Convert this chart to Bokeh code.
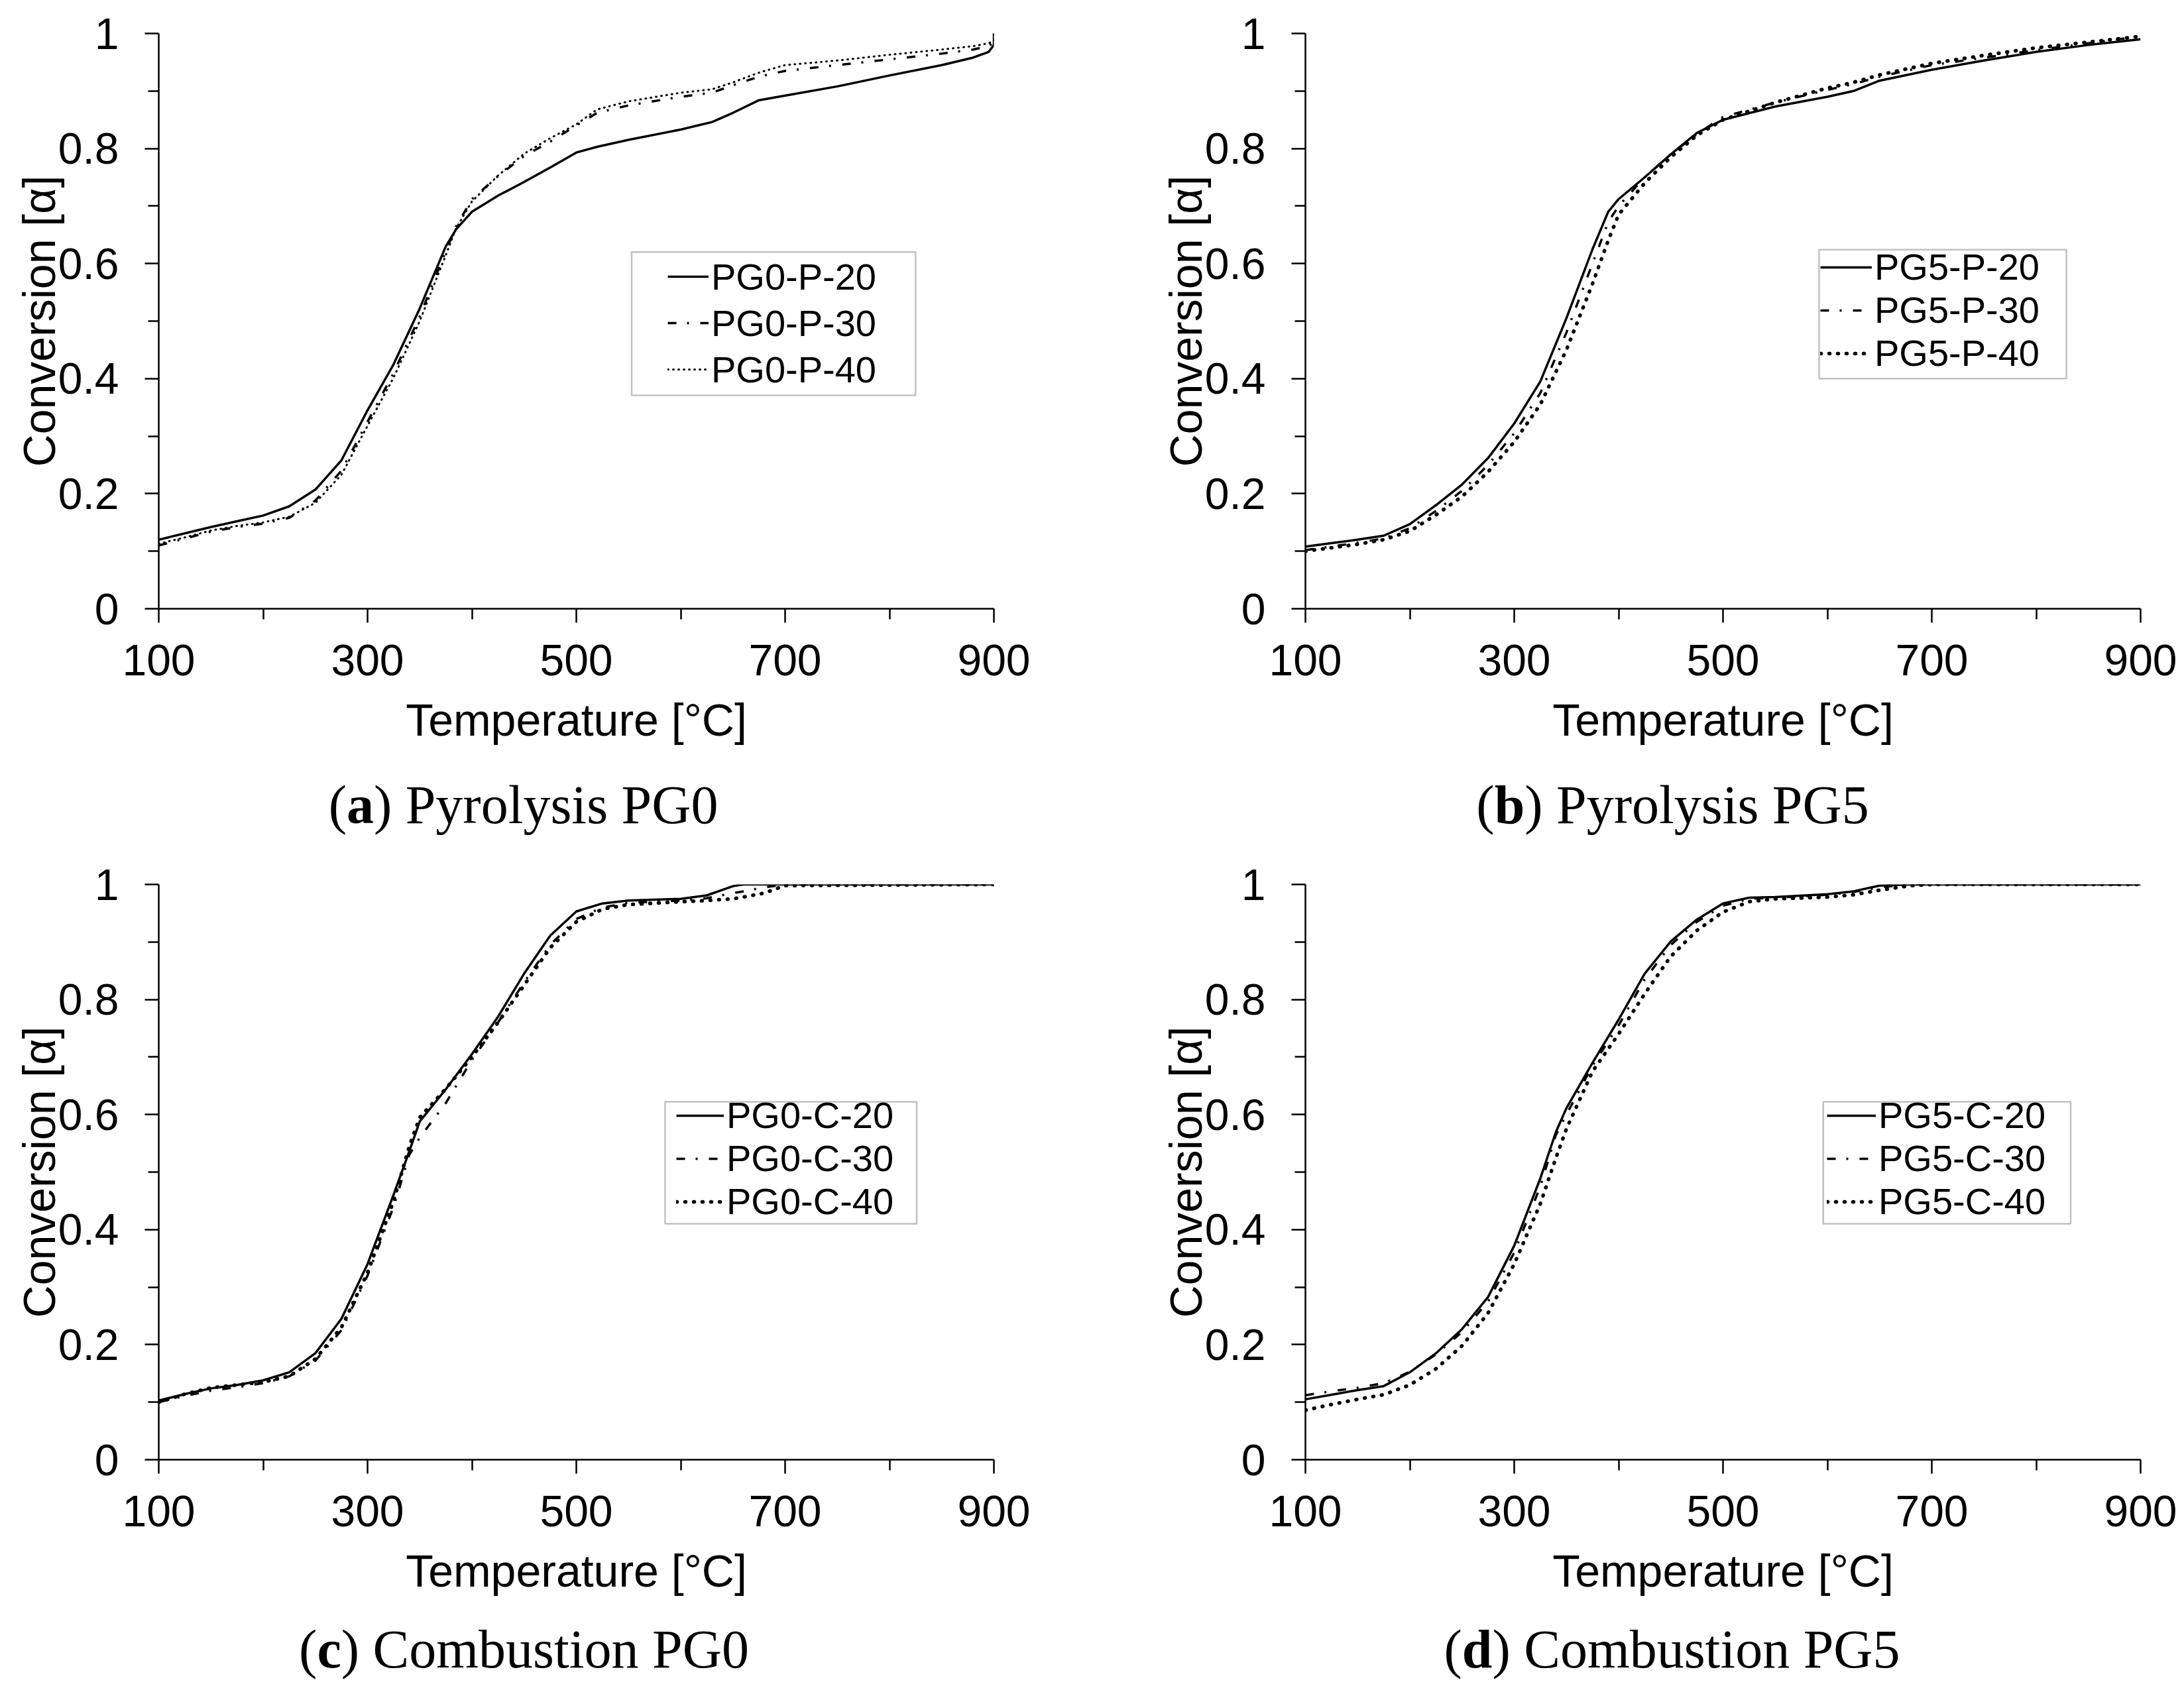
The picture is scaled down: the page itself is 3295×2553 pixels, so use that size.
from bokeh.plotting import figure
from bokeh.models import (Range1d, FixedTicker, NumeralTickFormatter, Legend, LegendItem,
                          BoxAnnotation)
from bokeh.layouts import column, row
from bokeh.embed import file_html
from bokeh.resources import INLINE
from bokeh.core.properties import value

SANS = "Liberation Sans"
SERIF = "Liberation Serif"

# ---------------- data ----------------
X_MAJOR = [100, 300, 500, 700, 900]
X_MINOR = [200, 400, 600, 800]
Y_MAJOR = [0, 0.2, 0.4, 0.6, 0.8, 1]
Y_MINOR = [0.1, 0.3, 0.5, 0.7, 0.9]

# (a) Pyrolysis PG0
T_a = [100, 125, 150, 175, 200, 225, 250, 275, 300, 325, 350, 375, 385, 400, 425, 450,
       475, 500, 520, 550, 600, 630, 650, 675, 700, 750, 800, 850, 880, 895, 900, 900]
PG0_P_20 = [.120, .131, .142, .152, .162, .178, .207, .258, .345, .425, .522, .630, .660, .690,
            .718, .742, .767, .793, .803, .815, .833, .846, .862, .884, .892, .908, .927, .945,
            .958, .968, .980, 1.0]
PG0_P_30 = [.110, .122, .134, .142, .148, .158, .188, .240, .325, .410, .508, .622, .665, .712,
            .752, .787, .812, .840, .862, .875, .890, .897, .910, .925, .935, .945, .955, .965,
            .972, .978, .985, 1.0]
PG0_P_40 = [.113, .124, .136, .144, .150, .160, .184, .233, .318, .402, .500, .615, .662, .708,
            .753, .791, .818, .842, .868, .882, .897, .903, .915, .932, .945, .953, .963, .972,
            .978, .983, .988, 1.0]

# (b) Pyrolysis PG5
T_b = [100, 125, 150, 175, 200, 225, 250, 275, 300, 325, 350, 375, 390, 400, 425, 450, 475,
       500, 550, 600, 625, 650, 700, 750, 800, 850, 900]
PG5_P_20 = [.108, .114, .120, .127, .147, .180, .216, .262, .322, .395, .505, .625, .690, .712,
            .750, .790, .827, .850, .873, .890, .900, .918, .937, .953, .968, .980, .990]
PG5_P_30 = [.102, .108, .115, .122, .140, .170, .205, .250, .305, .375, .480, .600, .672, .700,
            .750, .790, .825, .855, .880, .902, .912, .925, .945, .958, .971, .983, .995]
PG5_P_40 = [.100, .106, .112, .120, .135, .163, .195, .238, .290, .355, .450, .565, .640, .685,
            .740, .785, .823, .850, .880, .905, .915, .928, .948, .962, .975, .985, .995]

# (c) Combustion PG0
T_c = [100, 125, 150, 175, 200, 225, 250, 275, 300, 325, 340, 350, 375, 400, 425, 450, 475,
       500, 525, 550, 600, 625, 650, 660, 680, 700, 900]
PG0_C_20 = [.103, .114, .124, .130, .138, .152, .185, .245, .340, .461, .536, .588, .644, .705,
            .770, .845, .911, .953, .967, .972, .975, .981, .997, 1.0, 1.0, 1.0, 1.0]
PG0_C_30 = [.100, .111, .120, .126, .133, .145, .172, .225, .320, .440, .530, .560, .620, .695,
            .760, .830, .895, .940, .960, .968, .972, .976, .985, .988, .995, 1.0, 1.0]
PG0_C_40 = [.100, .114, .125, .130, .135, .145, .175, .230, .325, .450, .545, .595, .645, .700,
            .760, .825, .890, .935, .957, .965, .970, .972, .975, .978, .985, .998, 1.0]

# (d) Combustion PG5
T_d = [100, 125, 150, 175, 200, 225, 250, 275, 300, 325, 340, 350, 375, 400, 425, 450, 475,
       500, 525, 550, 600, 625, 650, 680, 700, 900]
PG5_C_20 = [.105, .113, .121, .128, .152, .185, .227, .283, .372, .489, .570, .611, .690, .765,
            .845, .901, .939, .967, .977, .978, .983, .988, .998, 1.0, 1.0, 1.0]
PG5_C_30 = [.112, .119, .125, .133, .153, .183, .222, .275, .360, .475, .565, .600, .685, .755,
            .835, .895, .935, .963, .975, .977, .982, .987, .995, 1.0, 1.0, 1.0]
PG5_C_40 = [.086, .096, .105, .113, .130, .158, .198, .255, .340, .445, .525, .575, .675, .740,
            .810, .875, .920, .952, .970, .975, .978, .982, .990, .998, 1.0, 1.0]

# ---------------- styling ----------------
SOLID = dict(line_color="black", line_width=3.5)
DASHDOT = dict(line_color="black", line_width=3.5, line_dash="13 16 3 17")
DOT_FINE = dict(line_color="black", line_width=3, line_dash="1 7", line_cap="round")
DOT_BOLD = dict(line_color="black", line_width=5.5, line_dash="1 12", line_cap="round")

FRAME_W = 1260
FRAME_H = 868
LEFT_B = 239
TOP_B = 50

TIMES_W = {"(": .333, ")": .333, " ": .25, "P": .556, "y": .5, "r": .333, "o": .5, "l": .278,
           "s": .389, "i": .278, "G": .722, "0": .5, "5": .5, "C": .667, "m": .778, "b": .5,
           "u": .5, "t": .278, "n": .5}
BOLD_W = {"a": .5, "b": .556, "c": .444, "d": .556}


def make_fig(width, height):
    p = figure(width=width, height=height, x_range=Range1d(100, 900), y_range=Range1d(0, 1),
               output_backend="svg", toolbar_location=None,
               min_border_left=LEFT_B, min_border_right=width - LEFT_B - FRAME_W,
               min_border_top=TOP_B, min_border_bottom=height - TOP_B - FRAME_H)
    p.xgrid.visible = False
    p.ygrid.visible = False
    p.outline_line_color = None
    p.background_fill_color = "white"
    p.border_fill_color = "white"
    p.xaxis.ticker = FixedTicker(ticks=X_MAJOR, minor_ticks=X_MINOR)
    p.yaxis.ticker = FixedTicker(ticks=Y_MAJOR, minor_ticks=Y_MINOR)
    p.yaxis.formatter = NumeralTickFormatter(format="0.[0]")
    for ax in (p.xaxis[0], p.yaxis[0]):
        ax.axis_line_color = "black"
        ax.axis_line_width = 2.5
        ax.major_tick_line_color = "black"
        ax.major_tick_line_width = 2.5
        ax.minor_tick_line_color = "black"
        ax.minor_tick_line_width = 2.5
        ax.major_tick_in = 0
        ax.major_tick_out = 21
        ax.minor_tick_in = 0
        ax.minor_tick_out = 16
        ax.major_label_text_font = SANS
        ax.major_label_text_font_size = "66px"
        ax.major_label_text_color = "black"
        ax.axis_label_text_font = SANS
        ax.axis_label_text_font_size = "68px"
        ax.axis_label_text_font_style = "normal"
        ax.axis_label_text_color = "black"
    p.xaxis.axis_label = "Temperature [°C]"
    p.yaxis.axis_label = "Conversion [α]"
    p.xaxis.major_label_standoff = 33
    p.xaxis.axis_label_standoff = 26
    p.yaxis.major_label_standoff = 39
    p.yaxis.axis_label_standoff = -12
    return p


def add_panel(p, T, series, names, styles, box, leg):
    renderers = [p.line(T, ys, **st) for ys, st in zip(series, styles)]
    left, right, bottom, top = box
    p.add_layout(BoxAnnotation(left=left, right=right, bottom=bottom, top=top,
                               fill_color="white", fill_alpha=1.0,
                               line_color="#333333", line_width=2.5))
    lx, ly, gw, lh = leg
    legend = Legend(items=[LegendItem(label=n, renderers=[r]) for n, r in zip(names, renderers)],
                    location=(lx, ly), glyph_width=gw, glyph_height=20, label_height=lh,
                    label_width=20, spacing=0, padding=0, margin=0, label_standoff=4,
                    border_line_alpha=0, background_fill_alpha=0,
                    label_text_font=SANS, label_text_font_size="56px",
                    label_text_color="black")
    p.add_layout(legend)


def caption_fig(width, height, letter, rest, center_x, center_from_top):
    c = figure(width=width, height=height, x_range=Range1d(0, width), y_range=Range1d(0, height),
               output_backend="svg", toolbar_location=None,
               x_axis_location=None, y_axis_location=None, min_border=0)
    c.xgrid.visible = False
    c.ygrid.visible = False
    c.outline_line_color = None
    c.background_fill_color = "white"
    c.border_fill_color = "white"
    fs = 82
    w_open = TIMES_W["("] * fs
    w_letter = BOLD_W[letter] * fs
    w_rest = sum(TIMES_W.get(ch, .5) for ch in rest) * fs
    start = -(w_open + w_letter + w_rest) / 2.0
    cy = height - center_from_top
    common = dict(text_font=value(SERIF), text_font_size=value(f"{fs}px"),
                  text_color="black", text_align="left", text_baseline="middle")
    c.text(x=[center_x], y=[cy], text=["("], x_offset=start, **common)
    c.text(x=[center_x], y=[cy], text=[letter], x_offset=start + w_open,
           text_font_style="bold", **common)
    c.text(x=[center_x], y=[cy], text=[rest], x_offset=start + w_open + w_letter, **common)
    return c


W_LEFT, W_RIGHT = 1730, 1560
H_CHART = 1160
H_CAP_TOP, H_CAP_BOT = 124, 100

pa = make_fig(W_LEFT, H_CHART)
add_panel(pa, T_a, [PG0_P_20, PG0_P_30, PG0_P_40], ["PG0-P-20", "PG0-P-30", "PG0-P-40"],
          [SOLID, DASHDOT, DOT_FINE], (553, 825, 0.371, 0.620), (768, 326, 62, 70))
ca = caption_fig(W_LEFT, H_CAP_TOP, "a", ") Pyrolysis PG0", 789, 54)

pb = make_fig(W_RIGHT, H_CHART)
add_panel(pb, T_b, [PG5_P_20, PG5_P_30, PG5_P_40], ["PG5-P-20", "PG5-P-30", "PG5-P-40"],
          [SOLID, DASHDOT, DOT_BOLD], (592, 829, 0.400, 0.624), (777, 353, 78, 61))
cb = caption_fig(W_RIGHT, H_CAP_TOP, "b", ") Pyrolysis PG5", 793, 54)

pc = make_fig(W_LEFT, H_CHART)
add_panel(pc, T_c, [PG0_C_20, PG0_C_30, PG0_C_40], ["PG0-C-20", "PG0-C-30", "PG0-C-40"],
          [SOLID, DASHDOT, DOT_BOLD], (585, 826, 0.410, 0.622), (781, 357, 72, 59))
cc = caption_fig(W_LEFT, H_CAP_BOT, "c", ") Combustion PG0", 790, 44)

pd_ = make_fig(W_RIGHT, H_CHART)
add_panel(pd_, T_d, [PG5_C_20, PG5_C_30, PG5_C_40], ["PG5-C-20", "PG5-C-30", "PG5-C-40"],
          [SOLID, DASHDOT, DOT_BOLD], (596, 833, 0.410, 0.622), (787, 357, 74, 58))
cd = caption_fig(W_RIGHT, H_CAP_BOT, "d", ") Combustion PG5", 792, 44)

layout = column(row(pa, pb), row(ca, cb), row(pc, pd_), row(cc, cd))
open("out.html", "w").write(file_html(layout, INLINE))
